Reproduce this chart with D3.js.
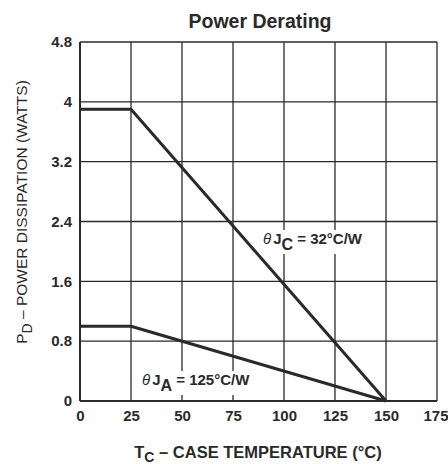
<!DOCTYPE html>
<html><head><meta charset="utf-8">
<script src="https://cdn.jsdelivr.net/npm/d3@7"></script>
<style>body{margin:0;background:#fff}svg{display:block}text{font-family:"Liberation Sans",Arial,sans-serif;fill:#2a2a2a}</style>
</head><body><svg id="c" width="448" height="464"></svg>
<script>
const xTicks = [0,25,50,75,100,125,150,175];
const yTicks = [0,0.8,1.6,2.4,3.2,4,4.8];
const yTickLabels = ["0","0.8","1.6","2.4","3.2","4","4.8"];
const tempC = [0,25,150];
const pdJC = [3.9,3.9,0];
const pdJA = [1.0,1.0,0];

const svg = d3.select("#c");
const x = d3.scaleLinear().domain([0,175]).range([80,437]);
const y = d3.scaleLinear().domain([0,4.8]).range([401,42]);
const ink = "#2a2a2a";

// grid
svg.append("g").selectAll("line").data(xTicks).join("line")
  .attr("x1",d=>x(d)).attr("x2",d=>x(d)).attr("y1",y(0)).attr("y2",y(4.8))
  .attr("stroke",ink).attr("stroke-width",d=>d===0?2:1.3);
svg.append("g").selectAll("line").data(yTicks).join("line")
  .attr("x1",x(0)).attr("x2",x(175)).attr("y1",d=>y(d)).attr("y2",d=>y(d))
  .attr("stroke",ink).attr("stroke-width",d=>d===0?2:1.3);

// axes labels via d3 axis
const xa = svg.append("g").attr("transform",`translate(0,${y(0)})`)
  .call(d3.axisBottom(x).tickValues(xTicks).tickSize(0).tickPadding(9));
const ya = svg.append("g").attr("transform",`translate(${x(0)},0)`)
  .call(d3.axisLeft(y).tickValues(yTicks).tickFormat((d,i)=>yTickLabels[i]).tickSize(0).tickPadding(8));
[xa,ya].forEach(a=>{a.select(".domain").remove();
  a.selectAll("text").style("font-family",'"Liberation Sans",Arial,sans-serif').style("font-size","15px").style("font-weight","bold").attr("fill",ink);});
xa.selectAll(".tick").filter(d=>d===175).select("text").attr("text-anchor","end").attr("dx",11);

// curves
const line = d3.line().x((d,i)=>x(tempC[i])).y(d=>y(d));
svg.append("path").attr("d",line(pdJC)).attr("fill","none").attr("stroke",ink).attr("stroke-width",3).attr("stroke-linejoin","round");
svg.append("path").attr("d",line(pdJA)).attr("fill","none").attr("stroke",ink).attr("stroke-width",3).attr("stroke-linejoin","round");

// annotation labels with white background
function label(tx,ty,sub,rest,bw){
  svg.append("rect").attr("x",tx-3).attr("y",ty-14).attr("width",bw).attr("height",24).attr("fill","#fff");
  const t = svg.append("text").attr("x",tx).attr("y",ty).style("font-size","15px").style("font-weight","bold");
  t.append("tspan").text("θ").style("font-style","italic").style("font-weight","normal");
  t.append("tspan").text("J").attr("dx",2);
  t.append("tspan").text(sub).attr("dy",6).style("font-size","16px");
  t.append("tspan").text(" = ").attr("dy",-6);
  t.append("tspan").text(rest);
}
label(263,244,"C","32°C/W",110);
label(142,385,"A","125°C/W",118);

// title
svg.append("text").attr("x",260).attr("y",28).attr("text-anchor","middle")
  .style("font-size","19.5px").style("font-weight","bold").text("Power Derating");

// x title
const xt = svg.append("text").attr("x",258).attr("y",458).attr("text-anchor","middle").style("font-size","16.5px").style("font-weight","bold");
xt.append("tspan").text("T");
xt.append("tspan").text("C").attr("dy",4).style("font-size","14px");
xt.append("tspan").text(" – CASE TEMPERATURE (°C)").attr("dy",-4);

// y title
const yt = svg.append("text").attr("transform","translate(27,212) rotate(-90)").attr("text-anchor","middle").style("font-size","15.5px").style("font-weight","normal");
yt.append("tspan").text("P");
yt.append("tspan").text("D").attr("dy",5).style("font-size","14px");
yt.append("tspan").text(" – POWER DISSIPATION (WATTS)").attr("dy",-5);
</script></body></html>
